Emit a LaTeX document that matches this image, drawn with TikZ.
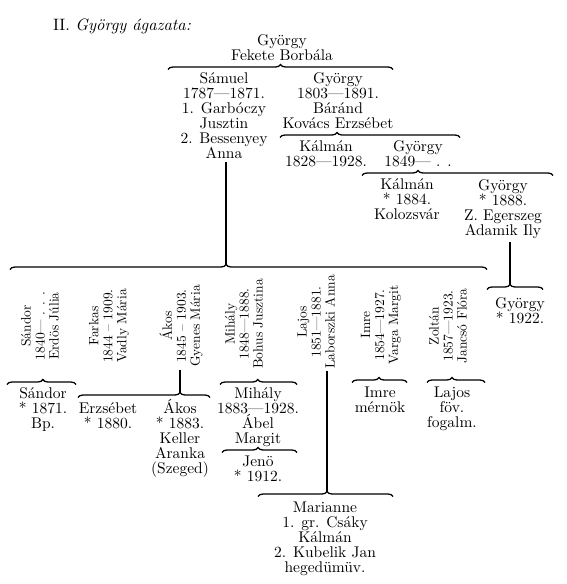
\documentclass[tikz,border=0pt]{standalone}
\usepackage{fontspec}
\setmainfont{lmroman10-regular.otf}[ItalicFont=lmroman10-italic.otf]
\usetikzlibrary{decorations.pathreplacing}
\begin{document}
\begin{tikzpicture}[x=1pt,y=-1pt,
  every node/.style={inner sep=0pt, outer sep=0pt},
  txt/.style={align=center, anchor=base, font={\fontsize{15.5}{15}\selectfont\lineskiplimit=-30pt}},
  rot/.style={align=center, anchor=center, rotate=90, font={\fontsize{13.5}{14}\selectfont\lineskiplimit=-30pt}},
  brc/.style={line width=1.3pt, decorate, decoration={brace, amplitude=5pt, aspect=#1}},
  brc/.default=0.5,
  vline/.style={line width=1.4pt}]
\path[use as bounding box, fill=white] (0,0) rectangle (567,584);

% title
\node[anchor=base west, font=\fontsize{16.5}{18}\selectfont] (title) at (53,30) {II. \textit{György ágazata:}};

% generation 1-3 (anchor = baseline of the last line)
\node[txt] (top) at (282,60) {György\\Fekete Borbála};
\node[txt] (samuel) at (224,158) {Sámuel\\1787—1871.\\1. Garbóczy\\Jusztin\\2. Bessenyey\\Anna};
\node[txt] (gy1803) at (338,128) {György\\1803—1891.\\Báránd\\Kovács Erzsébet};
\node[txt] (kal1828) at (326,166) {Kálmán\\1828—1928.};
\node[txt] (gy1849) at (418,166) {György\\1849— . .};
\node[txt] (kal1884) at (407,219) {Kálmán\\* 1884.\\Kolozsvár};
\node[txt] (gy1888) at (503,235) {György\\* 1888.\\Z. Egerszeg\\Adamik Ily};
\node[txt] (gy1922) at (520,323) {György\\* 1922.};

% rotated row
\node[rot] (sandor) at (40,326) {Sándor\\1840— . . .\\Erdös Júlia};
\node[rot] (farkas) at (109,326) {Farkas\\1844 – 1909.\\Vadly Mária};
\node[rot] (akos) at (181,326) {Ákos\\1845 – 1903.\\Gyenes Mária};
\node[rot] (mihaly) at (244,324) {Mihály\\1848—1888.\\Bohus Jusztina};
\node[rot] (lajos) at (316,322) {Lajos\\1851—1881.\\Laborszki Anna};
\node[rot] (imre) at (381,325) {Imre\\1854—1927.\\Varga Margit};
\node[rot] (zoltan) at (448,326) {Zoltán\\1857—1923.\\Jancsó Flóra};

% lower generations
\node[txt] (san1871) at (43,428) {Sándor\\* 1871.\\Bp.};
\node[txt] (erz) at (108,428) {Erzsébet\\* 1880.};
\node[txt] (akos1883) at (180,473) {Ákos\\* 1883.\\Keller\\Aranka\\(Szeged)};
\node[txt] (mih1883) at (258,443) {Mihály\\1883—1928.\\Ábel\\Margit};
\node[txt] (jeno) at (258,481) {Jenö\\* 1912.};
\node[txt] (mari) at (325,572) {Marianne\\1. gr. Csáky\\Kálmán\\2. Kubelik Jan\\hegedümüv.};
\node[txt] (imre2) at (380,412) {Imre\\mérnök};
\node[txt] (lajos2) at (452,427) {Lajos\\föv.\\fogalm.};

% brace end points
\coordinate (b1l) at (168,69.5);  \coordinate (b1r) at (393,69.5);
\coordinate (b2l) at (280,137.5); \coordinate (b2r) at (460,137.5);
\coordinate (b3l) at (362,175.5); \coordinate (b3r) at (553,175.5);
\coordinate (b4l) at (487,289.5); \coordinate (b4r) at (543,289.5);
\coordinate (b5l) at (10,269.5);  \coordinate (b5r) at (487,269.5);
\coordinate (b6l) at (7,384.5);   \coordinate (b6r) at (76,384.5);
\coordinate (b7l) at (78,397.5);  \coordinate (b7r) at (210,397.5);
\coordinate (b8l) at (220,384.5); \coordinate (b8r) at (297,384.5);
\coordinate (b9l) at (222,452.5); \coordinate (b9r) at (297,452.5);
\coordinate (b10l) at (258,496.5); \coordinate (b10r) at (393,496.5);
\coordinate (b11l) at (352,382.5); \coordinate (b11r) at (407,382.5);
\coordinate (b12l) at (427,382.5); \coordinate (b12r) at (485,382.5);

\draw[brc=0.5]   (b1l) -- (b1r);
\draw[brc=0.317] (b2l) -- (b2r);
\draw[brc=0.293] (b3l) -- (b3r);
\draw[brc=0.41]  (b4l) -- (b4r);
\draw[brc=0.453] (b5l) -- (b5r);
\draw[brc=0.52]  (b6l) -- (b6r);
\draw[brc=0.773] (b7l) -- (b7r);
\draw[brc=0.49]  (b8l) -- (b8r);
\draw[brc=0.48]  (b9l) -- (b9r);
\draw[brc=0.511] (b10l) -- (b10r);
\draw[brc=0.49]  (b11l) -- (b11r);
\draw[brc=0.43]  (b12l) -- (b12r);

% brace tips for descent lines
\coordinate (tS) at (226,264.5);
\coordinate (tG) at (510,284.5);
\coordinate (tA) at (180,392.5);
\coordinate (tL) at (327,491.5);

\draw[vline] ([yshift=-4pt]samuel.south -| tS) -- (tS);
\draw[vline] ([yshift=-4pt]gy1888.south -| tG) -- (tG);
\draw[vline] ([yshift=-3pt]akos.west -| tA) -- (tA);
\draw[vline] ([yshift=-2pt]lajos.west -| tL) -- (tL);
\end{tikzpicture}
\end{document}
